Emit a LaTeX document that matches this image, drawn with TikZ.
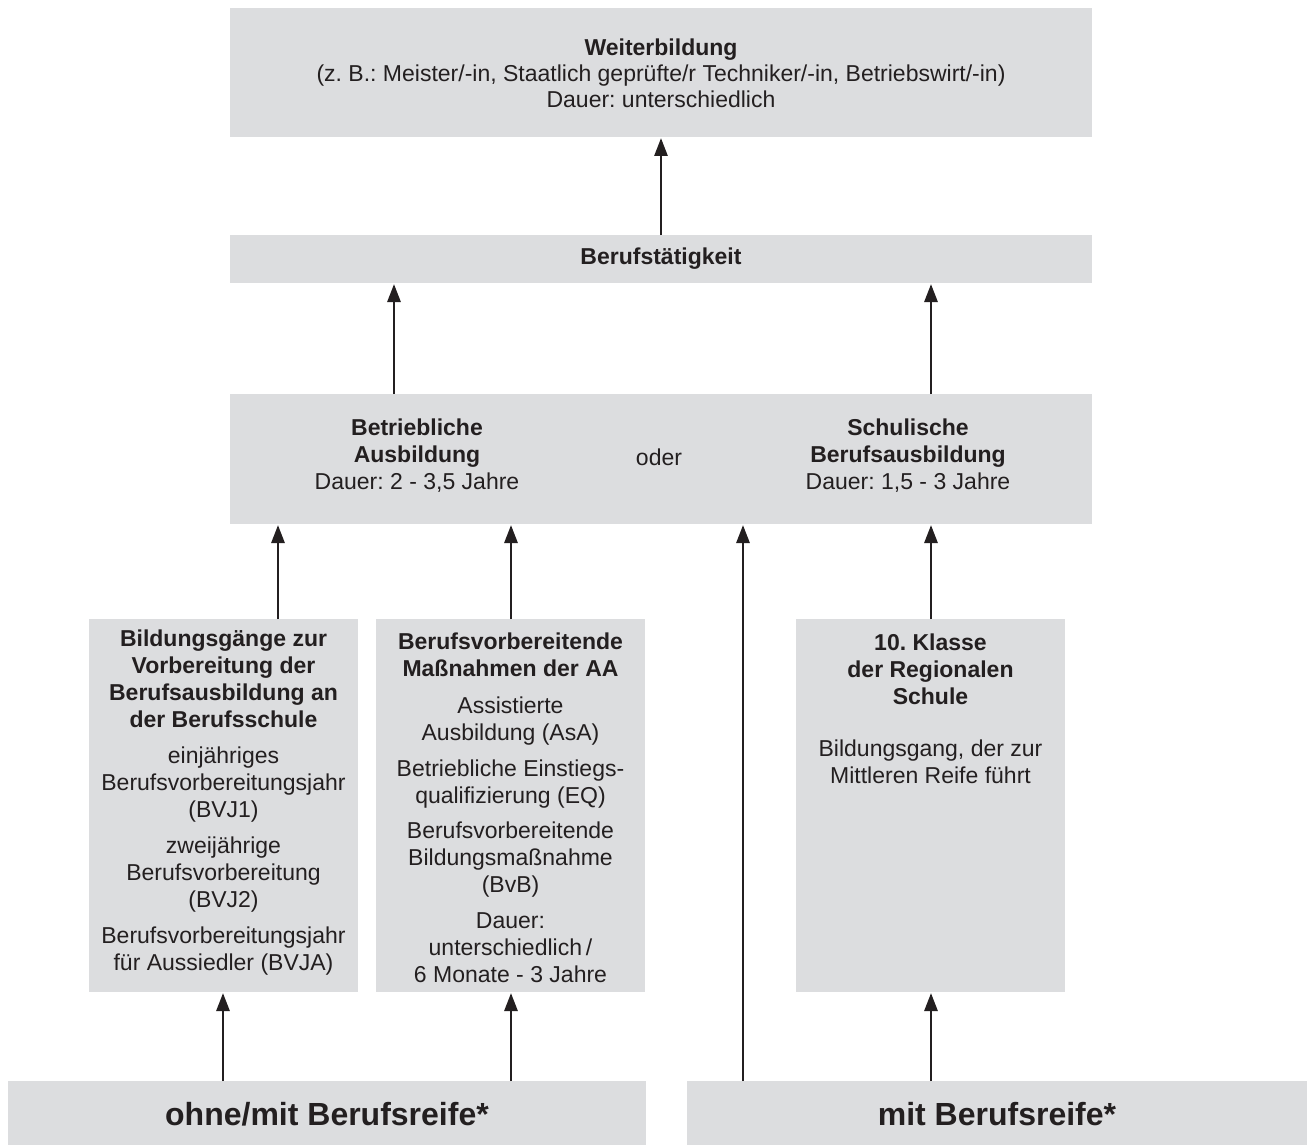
\documentclass[tikz,border=0pt]{standalone}
\usepackage{fontspec}
\setmainfont{Liberation Sans}
\usetikzlibrary{arrows.meta}
\definecolor{boxgray}{HTML}{DCDDDF}
\definecolor{ink}{HTML}{231F20}
\frenchspacing
\begin{document}
\begin{tikzpicture}[x=1pt,y=-1pt,
  box/.style={fill=boxgray, draw=none, inner sep=0pt, outer sep=0pt, anchor=north west},
  txt/.style={align=center, inner sep=0pt, text=ink, font=\fontsize{23}{27}\selectfont},
  bigtxt/.style={align=center, inner sep=0pt, text=ink, font=\bfseries\fontsize{32}{38}\selectfont},
  arr/.style={draw=ink, line width=2.8pt, -{Triangle[length=18pt,width=13pt]}, shorten >=1pt}]
\useasboundingbox (0,0) rectangle (1307,1145);

% boxes
\node[box, minimum width=862pt, minimum height=129pt] (weiter) at (230,8) {};
\node[box, minimum width=862pt, minimum height=48pt] (beruf) at (230,235) {};
\node[box, minimum width=862pt, minimum height=130pt] (ausb) at (230,394) {};
\node[box, minimum width=269pt, minimum height=373pt] (bg) at (89,619) {};
\node[box, minimum width=269pt, minimum height=373pt] (bv) at (376,619) {};
\node[box, minimum width=269pt, minimum height=373pt] (kl) at (796,619) {};
\node[box, minimum width=638pt, minimum height=64pt] (ohne) at (8,1081) {};
\node[box, minimum width=620pt, minimum height=64pt] (mit) at (687,1081) {};

% texts
\node[txt, font=\fontsize{23}{26}\selectfont] (weiterT) at (661,73)
  {\textbf{Weiterbildung}\\(z.~B.: Meister/-in, Staatlich geprüfte/r Techniker/-in, Betriebswirt/-in)\\Dauer: unterschiedlich};
\node[txt, font=\bfseries\fontsize{23}{27}\selectfont] (berufT) at (661,259) {Berufstätigkeit};
\node[txt] (ausbL) at (417,456) {\textbf{Betriebliche}\\\textbf{Ausbildung}\\Dauer: 2 - 3,5 Jahre};
\node[txt] (oder) at (659,457) {oder};
\node[txt] (ausbR) at (908,456) {\textbf{Schulische}\\\textbf{Berufsausbildung}\\Dauer: 1,5 - 3 Jahre};
\node[txt] (bgT) at (223.5,803)
  {\textbf{Bildungsgänge zur}\\\textbf{Vorbereitung der}\\\textbf{Berufsausbildung an}\\\textbf{der Berufsschule}\\[9pt]
   einjähriges\\Berufsvorbereitungsjahr\\(BVJ1)\\[9pt]
   zweijährige\\Berufsvorbereitung\\(BVJ2)\\[9pt]
   Berufsvorbereitungsjahr\\für Aussiedler (BVJA)};
\node[txt] (bvT) at (510.5,807.5)
  {\textbf{Berufsvorbereitende}\\\textbf{Maßnahmen der AA}\\[10pt]
   Assistierte\\Ausbildung (AsA)\\[9pt]
   Betriebliche Einstiegs-\\qualifizierung (EQ)\\[8pt]
   Berufsvorbereitende\\Bildungsmaßnahme\\(BvB)\\[9pt]
   Dauer:\\unterschiedlich\,/\\6 Monate - 3 Jahre};
\node[txt] (klT) at (930.5,708.5)
  {\textbf{10. Klasse}\\\textbf{der Regionalen}\\\textbf{Schule}\\[25pt]
   Bildungsgang, der zur\\Mittleren Reife führt};
\node[bigtxt] (ohneT) at (327,1114) {ohne/mit Berufsreife*};
\node[bigtxt] (mitT) at (997,1114) {mit Berufsreife*};

% arrow columns
\coordinate (c223) at (223,0);
\coordinate (c278) at (278,0);
\coordinate (c394) at (394,0);
\coordinate (c511) at (511,0);
\coordinate (c661) at (661,0);
\coordinate (c743) at (743,0);
\coordinate (c931) at (931,0);

% arrows
\draw[arr] (beruf.north -| c661) -- (weiter.south -| c661);
\draw[arr] (ausb.north -| c394) -- (beruf.south -| c394);
\draw[arr] (ausb.north -| c931) -- (beruf.south -| c931);
\draw[arr] (bg.north -| c278) -- (ausb.south -| c278);
\draw[arr] (bv.north -| c511) -- (ausb.south -| c511);
\draw[arr] (mit.north -| c743) -- (ausb.south -| c743);
\draw[arr] (kl.north -| c931) -- (ausb.south -| c931);
\draw[arr] (ohne.north -| c223) -- (bg.south -| c223);
\draw[arr] (ohne.north -| c511) -- (bv.south -| c511);
\draw[arr] (mit.north -| c931) -- (kl.south -| c931);
\end{tikzpicture}
\end{document}
